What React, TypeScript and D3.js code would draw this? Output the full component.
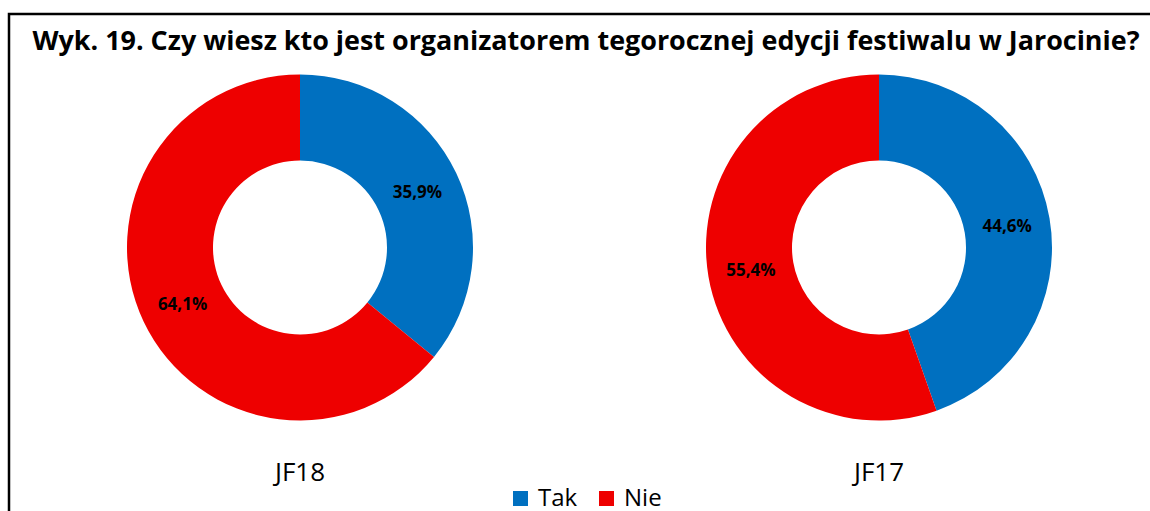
import React from "react";
import * as d3 from "d3";

const title = "Wyk. 19. Czy wiesz kto jest organizatorem tegorocznej edycji festiwalu w Jarocinie?";
const categories = ["Tak", "Nie"];
const colors = ["#0070C0", "#EE0000"];
const charts = ["JF18", "JF17"];
const valuesJF18 = [35.9, 64.1];
const valuesJF17 = [44.6, 55.4];

const W = 1150;
const H = 511;

function Donut({ cx, cy, values, label }: { cx: number; cy: number; values: number[]; label: string }) {
  const outer = 173;
  const inner = 87;
  const pie = d3.pie<number>().sort(null).value((d) => d).startAngle(0).endAngle(2 * Math.PI);
  const arc = d3.arc<d3.PieArcDatum<number>>().innerRadius(inner).outerRadius(outer);
  const arcs = pie(values);
  const fmt = (v: number) => v.toFixed(1).replace(".", ",") + "%";
  return (
    <g transform={`translate(${cx},${cy})`}>
      {arcs.map((a, i) => (
        <path key={i} d={arc(a) || ""} fill={colors[i]} />
      ))}
      {arcs.map((a, i) => {
        const [x, y] = arc.centroid(a);
        return (
          <text
            key={"l" + i}
            x={x}
            y={y}
            textAnchor="middle"
            dominantBaseline="central"
            fontFamily="'Open Sans', sans-serif"
            fontWeight="bold"
            fontSize={17}
            fill="#000"
          >
            {fmt(a.data)}
          </text>
        );
      })}
      <text
        x={0}
        y={233}
        textAnchor="middle"
        fontFamily="'Open Sans', sans-serif"
        fontSize={26}
        fill="#000"
      >
        {label}
      </text>
    </g>
  );
}

export default function App() {
  const centers = d3.scalePoint<string>().domain(charts).range([300, 879]);
  const legendX = [513, 599];
  return (
    <svg width={W} height={H} style={{ position: "absolute", left: 0, top: 0, background: "#fff" }}>
      <rect x={0} y={0} width={W} height={H} fill="#fff" />
      <rect x={9} y={14} width={1160} height={520} fill="none" stroke="#000" strokeWidth={2.5} />
      <text
        x={586}
        y={50}
        textAnchor="middle"
        fontFamily="'Open Sans', sans-serif"
        fontWeight="bold"
        fontSize={27}
        textLength={1107}
        lengthAdjust="spacingAndGlyphs"
        fill="#000"
      >
        {title}
      </text>
      <Donut cx={centers("JF18")!} cy={247.5} values={valuesJF18} label="JF18" />
      <Donut cx={centers("JF17")!} cy={247.5} values={valuesJF17} label="JF17" />
      {categories.map((c, i) => (
        <g key={c}>
          <rect x={legendX[i]} y={491} width={15} height={15} fill={colors[i]} />
          <text x={legendX[i] + 25} y={506} fontFamily="'Open Sans', sans-serif" fontSize={24} fill="#000">
            {c}
          </text>
        </g>
      ))}
    </svg>
  );
}
